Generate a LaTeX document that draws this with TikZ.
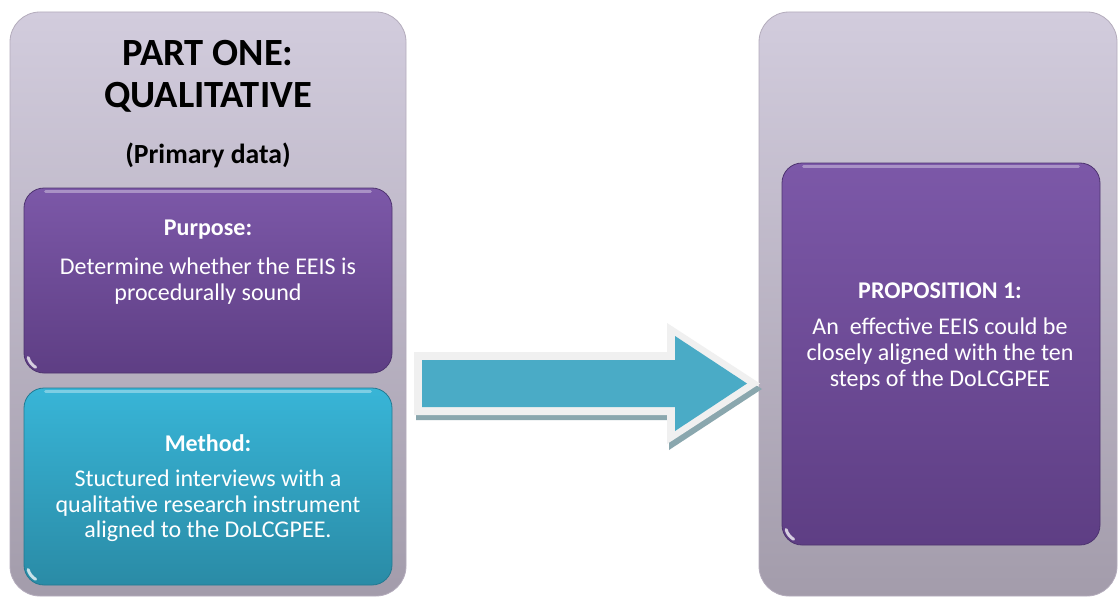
\documentclass[tikz,border=0pt]{standalone}
\usepackage{fontspec}
\setmainfont{Carlito}
\begin{document}
\begin{tikzpicture}[x=1pt,y=-1pt,
  outerbox/.style={rounded corners=30pt, top color=lav1, bottom color=lav2, draw=lavedge, line width=0.8pt, inner sep=0pt},
  purplebox/.style={rounded corners=20pt, top color=pur1, bottom color=pur2, draw=puredge, line width=0.8pt, inner sep=0pt},
  tealbox/.style={rounded corners=20pt, top color=teal1, bottom color=teal2, draw=tealedge, line width=0.8pt, inner sep=0pt},
  titletext/.style={font=\fontsize{38.5}{42}\selectfont\bfseries, text=black, align=center},
  subtext/.style={font=\fontsize{27.7}{30}\selectfont\bfseries, text=black, align=center},
  headtext/.style={font=\fontsize{24}{26}\selectfont\bfseries, text=white, align=center},
  bodytext/.style={font=\fontsize{24}{25.6}\selectfont, text=white, align=center},
  gloss/.style={white, opacity=0.35, line width=3pt, line cap=round},
  cornerglint/.style={white, opacity=0.75, line width=3pt, line cap=round}
]
\definecolor{lav1}{HTML}{D2CCDD}
\definecolor{lav2}{HTML}{A39CAB}
\definecolor{lavedge}{HTML}{B4ACBC}
\definecolor{pur1}{HTML}{7C58A8}
\definecolor{pur2}{HTML}{5E3E84}
\definecolor{puredge}{HTML}{4E3470}
\definecolor{teal1}{HTML}{38B5D7}
\definecolor{teal2}{HTML}{2A8BA6}
\definecolor{tealedge}{HTML}{237A92}
\definecolor{arrowfill}{HTML}{4AABC6}
\definecolor{arrowrim}{HTML}{F0F0F0}
\definecolor{arrowshadow}{HTML}{8AA7AE}

\useasboundingbox[fill=white] (0,0) rectangle (1118,599);

% outer panels
\node[outerbox, minimum width=396pt, minimum height=584pt] (leftpanel) at (208,304) {};
\node[outerbox, minimum width=358pt, minimum height=584pt] (rightpanel) at (938,304) {};

% inner boxes
\node[purplebox, minimum width=368pt, minimum height=185pt] (purpose) at (208,280.5) {};
\node[tealbox, minimum width=368pt, minimum height=197pt] (method) at (208,486.5) {};
\node[purplebox, minimum width=318pt, minimum height=382pt] (prop) at (941,354) {};

% gloss highlights along the top edges
\draw[gloss] ([xshift=22pt,yshift=-4pt]purpose.north west) -- ([xshift=-22pt,yshift=-4pt]purpose.north east);
\draw[gloss] ([xshift=22pt,yshift=-4pt]method.north west) -- ([xshift=-22pt,yshift=-4pt]method.north east);
\draw[gloss] ([xshift=22pt,yshift=-4pt]prop.north west) -- ([xshift=-22pt,yshift=-4pt]prop.north east);

% glints in the lower left corners
\foreach \b in {purpose, method, prop} {
  \begin{scope}[shift={(\b.south west)}, x=1pt, y=1pt]
    \draw[cornerglint] (20,20) ++(195:16) arc[start angle=195, end angle=240, radius=16];
  \end{scope}
}

% texts
\node[titletext] (title) at (208,76) {PART ONE:\\QUALITATIVE};
\node[subtext] (primary) at (208,155) {(Primary data)};
\node[headtext] (purposehead) at (208,230) {Purpose:};
\node[bodytext] (purposebody) at (208,281) {Determine whether the EEIS is\\procedurally sound};
\node[headtext] (methodhead) at (208,443) {Method:};
\node[bodytext] (methodbody) at (208,506) {Stuctured interviews with a\\qualitative research instrument\\aligned to the DoLCGPEE.};
\node[headtext] (prophead) at (940,291) {PROPOSITION 1:};
\node[bodytext] (propbody) at (940,354) {An\ \ effective EEIS could be\\closely aligned with the ten\\steps of the DoLCGPEE};

% block arrow between the panels
\coordinate (atail) at (422,383.5);
\coordinate (atip) at (747,383.5);
\fill[arrowshadow] (416,357) -- (669,357) -- (669,328) -- (762,389) -- (669,450) -- (669,420) -- (416,420) -- cycle;
\fill[arrowrim] (414,352) -- (667,352) -- (667,323) -- (760,383.5) -- (667,444) -- (667,415) -- (414,415) -- cycle;
\fill[arrowfill] (atail |- 0,360) -- (675,360) -- (675,336) -- (atip) -- (675,431) -- (675,407) -- (atail |- 0,407) -- cycle;
\end{tikzpicture}
\end{document}
